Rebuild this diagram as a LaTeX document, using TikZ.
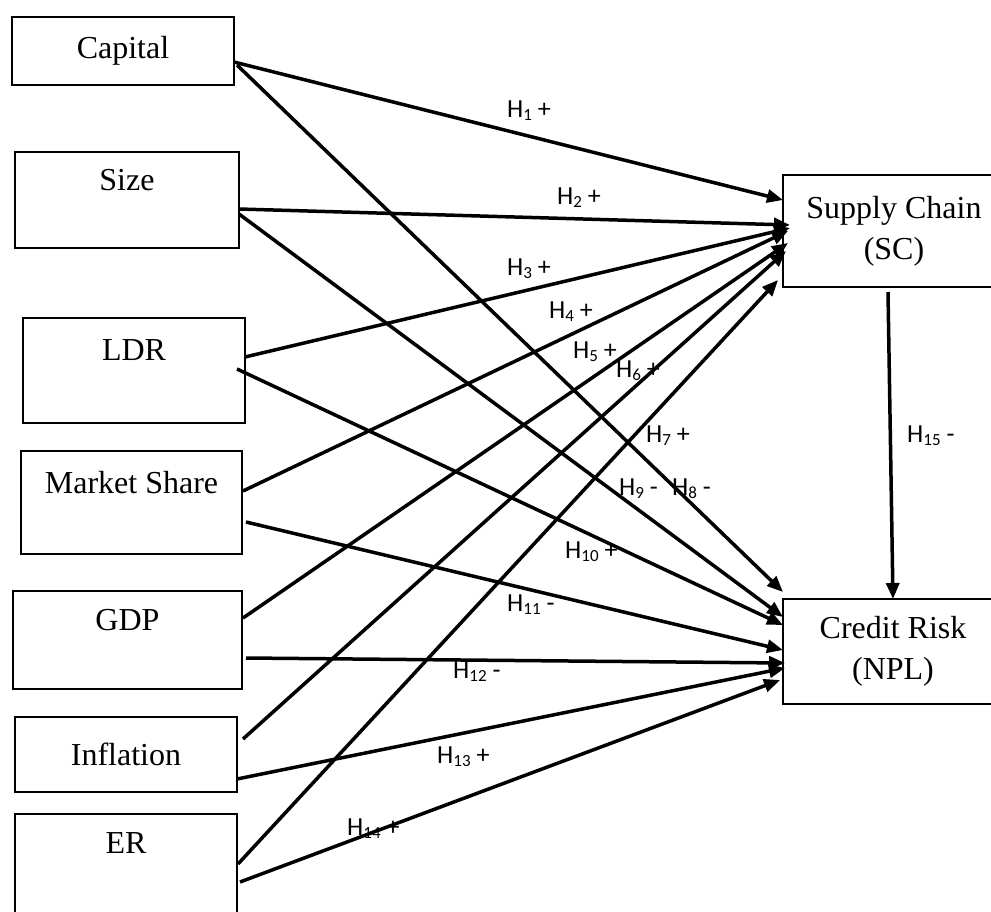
\documentclass[tikz,border=0pt]{standalone}
\usepackage{fontspec}
\setmainfont{Liberation Serif}
\newfontfamily\labfont{Carlito}
\usetikzlibrary{arrows.meta}
\newcommand{\hyp}[2]{H\raisebox{-3pt}{\fontsize{17}{17}\selectfont #1}~#2}

\begin{document}
\begin{tikzpicture}[
  x=1pt, y=-1pt,
  >={Triangle[length=16pt,width=13pt]},
  box/.style={
    rectangle, draw, line width=2.4pt, align=center,
    inner sep=0pt, outer sep=0pt, font=\fontsize{32}{41}\selectfont
  },
  arrow/.style={->, line width=3.5pt},
  hlabel/.style={anchor=base west, inner sep=0pt, font=\labfont\fontsize{26}{30}\selectfont}
]
\useasboundingbox (0,0) rectangle (991,911);

\node (cap)  [box, minimum width=222pt, minimum height=68pt]  at (123,51)    {Capital};
\node (size) [box, minimum width=224pt, minimum height=96pt]  at (127,200)   {Size\\~};
\node (ldr)  [box, minimum width=222pt, minimum height=105pt] at (134,370.5) {LDR\\~};
\node (mkt)  [box, minimum width=221pt, minimum height=103pt] at (131.5,502.5) {Market Share\\~};
\node (gdp)  [box, minimum width=229pt, minimum height=98pt]  at (127.5,640) {GDP\\~};
\node (inf)  [box, minimum width=222pt, minimum height=75pt]  at (126,754.5) {Inflation};
\node (er)   [box, minimum width=222pt, minimum height=100pt] at (126,864)   {ER\\~};

\node (sc)   [box, minimum width=222pt, minimum height=112pt] at (894,231)   {Supply Chain\\(SC)};
\node (npl)  [box, minimum width=220pt, minimum height=105pt] at (893,651.5) {Credit Risk\\(NPL)};

\draw[arrow] ([yshift=-11pt]cap.east) -- ([yshift=31pt]sc.west);
\draw[arrow] ([yshift=-9pt]size.east) -- ([xshift=7pt,yshift=6pt]sc.west);
\draw[arrow] ([yshift=13.5pt]ldr.east) -- ([xshift=7pt,yshift=3pt]sc.west);
\draw[arrow] ([xshift=1pt,yshift=11.5pt]mkt.east) -- ([xshift=5pt]sc.west);
\draw[arrow] ([xshift=1pt,yshift=22pt]gdp.east) -- ([xshift=5pt,yshift=-12pt]sc.west);
\draw[arrow] ([xshift=6pt,yshift=15.5pt]inf.east) -- ([xshift=3pt,yshift=-20pt]sc.west);
\draw[arrow] ([xshift=1pt]er.east) -- ([xshift=-5pt,yshift=-49pt]sc.west);

\draw[arrow] ([xshift=3pt,yshift=-14pt]cap.east) -- ([yshift=59.5pt]npl.west);
\draw[arrow] ([yshift=-14pt]size.east) -- ([yshift=34.5pt]npl.west);
\draw[arrow] ([xshift=-8pt,yshift=1.5pt]ldr.east) -- ([yshift=26.5pt]npl.west);
\draw[arrow] ([xshift=4pt,yshift=-19.5pt]mkt.east) -- ([yshift=1.5pt]npl.west);
\draw[arrow] ([xshift=4pt,yshift=-18pt]gdp.east) -- ([xshift=2pt,yshift=-11.5pt]npl.west);
\draw[arrow] ([yshift=-24.5pt]inf.east) -- ([xshift=2pt,yshift=-16.5pt]npl.west);
\draw[arrow] ([xshift=3pt,yshift=-18pt]er.east) -- ([xshift=-3pt,yshift=-28.5pt]npl.west);

\draw[arrow] ([xshift=-6pt,yshift=-5pt]sc.south) -- (npl.north);

\node (h1)  [hlabel] at (507,117) {\hyp{1}{+}};
\node (h2)  [hlabel] at (557,204) {\hyp{2}{+}};
\node (h3)  [hlabel] at (507,275) {\hyp{3}{+}};
\node (h4)  [hlabel] at (549,318) {\hyp{4}{+}};
\node (h5)  [hlabel] at (573,358) {\hyp{5}{+}};
\node (h6)  [hlabel] at (616,377) {\hyp{6}{+}};
\node (h7)  [hlabel] at (646,442) {\hyp{7}{+}};
\node (h8)  [hlabel] at (672,495) {\hyp{8}{-}};
\node (h9)  [hlabel] at (619,495) {\hyp{9}{-}};
\node (h10) [hlabel] at (565,558) {\hyp{10}{+}};
\node (h11) [hlabel] at (507,611) {\hyp{11}{-}};
\node (h12) [hlabel] at (453,678) {\hyp{12}{-}};
\node (h13) [hlabel] at (437,763) {\hyp{13}{+}};
\node (h14) [hlabel] at (347,835) {\hyp{14}{+}};
\node (h15) [hlabel] at (907,442) {\hyp{15}{-}};
\end{tikzpicture}
\end{document}
